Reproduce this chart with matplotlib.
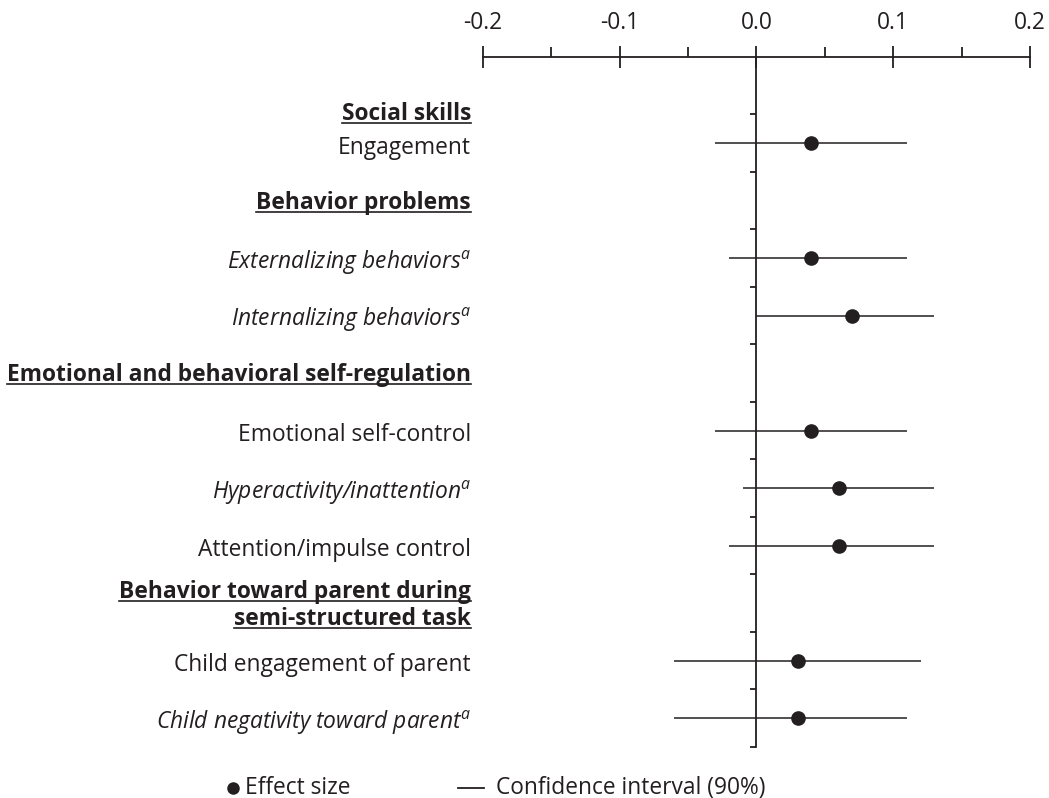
import numpy as np
import matplotlib
matplotlib.use('Agg')
import matplotlib.pyplot as plt
from matplotlib.lines import Line2D
from matplotlib.transforms import blended_transform_factory

plt.rcParams['font.family'] = ['Open Sans', 'DejaVu Sans']
plt.rcParams['mathtext.fontset'] = 'custom'
plt.rcParams['mathtext.it'] = 'Open Sans:italic'
plt.rcParams['mathtext.rm'] = 'Open Sans'

fontsize = 16.4
ink = '#231f20'

# outcome rows, effect sizes and 90% confidence intervals
labels = ["Engagement", "Externalizing behaviors", "Internalizing behaviors",
          "Emotional self-control", "Hyperactivity/inattention",
          "Attention/impulse control", "Child engagement of parent",
          "Child negativity toward parent"]
footnote = [False, True, True, False, True, False, False, True]
effect = [0.04, 0.04, 0.07, 0.04, 0.06, 0.06, 0.03, 0.03]
ci_low = [-0.03, -0.02, 0.0, -0.03, -0.01, -0.02, -0.06, -0.06]
ci_high = [0.11, 0.11, 0.13, 0.11, 0.13, 0.13, 0.12, 0.11]

headers = ["Social skills", "Behavior problems",
           "Emotional and behavioral self-regulation",
           "Behavior toward parent during\nsemi-structured task"]
xticks = [-0.2, -0.1, 0.0, 0.1, 0.2]
xminor = [-0.15, -0.05, 0.05, 0.15]
legend_labels = ["Effect size", "Confidence interval (90%)"]

# row layout (one unit per row)
rows = np.array([0, 2, 3, 5, 6, 7, 9, 10])
header_rows = [-0.55, 1, 4, 8]

fig = plt.figure(figsize=(10.49, 7.98), dpi=100)
ax = fig.add_axes([0.4604, 0.0, 0.5215, 0.9286])
ax.set_xlim(-0.2, 0.2)
ax.set_ylim(11.39, -1.5)

ax.hlines(rows, ci_low, ci_high, color=ink, lw=1.1, zorder=2)
ax.plot(effect, rows, 'o', color=ink, ms=9.5, zorder=3)

# axes: top scale and a vertical zero line with row ticks
for s in ['right', 'bottom']:
    ax.spines[s].set_visible(False)
ax.spines['top'].set_color(ink)
ax.spines['top'].set_linewidth(1.3)
ax.spines['left'].set_position(('data', 0))
ax.spines['left'].set_bounds(-1.5, 10.5)
ax.spines['left'].set_color(ink)
ax.spines['left'].set_linewidth(1.3)

ax.xaxis.tick_top()
ax.set_xticks(xticks)
ax.set_xticklabels(['%.1f' % v for v in xticks])
ax.set_xticks(xminor, minor=True)
ax.tick_params(axis='x', which='major', direction='inout', length=16,
               width=1.3, color=ink, labelcolor=ink, labelsize=fontsize, pad=7.5)
ax.tick_params(axis='x', which='minor', direction='out', length=7,
               width=1.3, color=ink)

ax.set_yticks(np.arange(-0.5, 11, 1))
ax.tick_params(axis='y', direction='out', length=4.5, width=1.3,
               color=ink, labelleft=False)

trans = blended_transform_factory(ax.transAxes, ax.transData)
xlab = -0.022
dy = 0.08   # nudge labels down to sit level with the markers

for lab, r, fn in zip(labels, rows, footnote):
    if fn:
        ax.text(xlab, r + dy, lab + r'$^{a}$', transform=trans, ha='right',
                va='center', fontsize=fontsize, style='italic', color=ink)
    else:
        ax.text(xlab, r + dy, lab, transform=trans, ha='right', va='center',
                fontsize=fontsize, color=ink)

head_texts = []
for h, r in zip(headers, header_rows):
    parts = h.split('\n')
    offs = [0.0] if len(parts) == 1 else [-0.235, 0.235]
    for p, o in zip(parts, offs):
        t = ax.text(xlab, r + o + 0.04, p, transform=trans, ha='right',
                    va='center', fontsize=fontsize, fontweight='bold',
                    color=ink)
        head_texts.append(t)

# underline headers
fig.canvas.draw()
renderer = fig.canvas.get_renderer()
inv = fig.transFigure.inverted()
for t in head_texts:
    bb = t.get_window_extent(renderer)
    (x0, y0), (x1, _) = inv.transform([(bb.x0, bb.y0 + 3), (bb.x1, bb.y0 + 3)])
    fig.add_artist(Line2D([x0, x1], [y0, y0], color=ink, lw=1.2))

# legend
ly = 0.0125
fig.add_artist(Line2D([0.2221], [ly], marker='o', color=ink, ms=8, ls='none'))
fig.text(0.2336, ly, legend_labels[0], ha='left', va='center',
         fontsize=fontsize, color=ink)
fig.add_artist(Line2D([0.4366, 0.4614], [ly, ly], color=ink, lw=1.3))
fig.text(0.4728, ly, legend_labels[1], ha='left', va='center',
         fontsize=fontsize, color=ink)

fig.savefig('out.png', dpi=100)
